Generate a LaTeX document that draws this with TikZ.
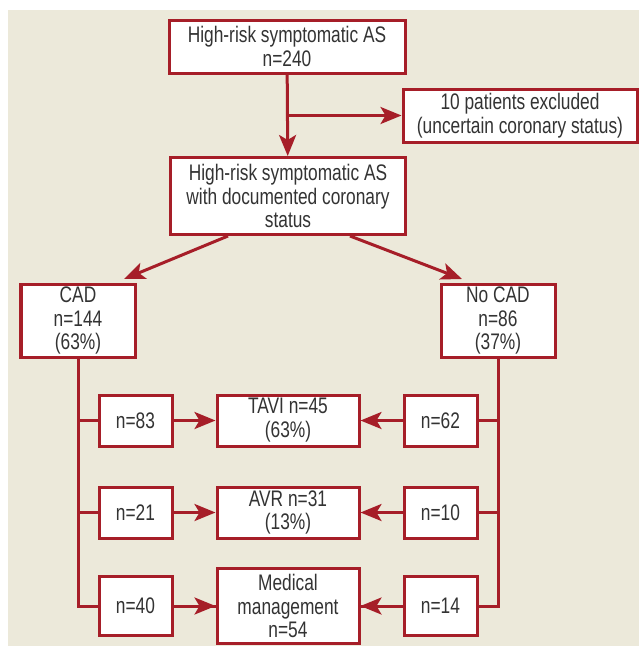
\documentclass[tikz,border=0pt]{standalone}
\usepackage{fontspec}
\setmainfont{Liberation Sans}[FakeStretch=0.77]
\usetikzlibrary{arrows.meta,calc}
\definecolor{panel}{HTML}{ECE9DA}
\definecolor{cadred}{HTML}{A61E28}
\definecolor{txt}{HTML}{333333}
\newlength\pxu
\setlength\pxu{0.025cm}
\tikzset{
  box/.style={draw=cadred, line width=0.075cm, fill=white, text=txt, align=center,
    inner sep=0pt, font=\fontsize{16}{17}\selectfont},
  link/.style={draw=cadred, line width=0.075cm},
  arr/.style={link, -{Stealth[length=0.525cm, width=0.425cm, inset=0.125cm]}},
}
\begin{document}
\begin{tikzpicture}[x=0.025cm, y=-0.025cm]
  \useasboundingbox (0,0) rectangle (639,646);
  \fill[panel] (8,10) rectangle (639,646);
  % top of the chart
  \node[box, minimum width=236\pxu, minimum height=53\pxu] (total) at (287,46.5) {High-risk symptomatic AS\\n=240};
  \node[box, minimum width=234\pxu, minimum height=53\pxu] (excl) at (520,115.5) {10 patients excluded\\(uncertain coronary status)};
  \node[box, minimum width=235\pxu, minimum height=77\pxu] (known) at (288,196) {High-risk symptomatic AS\\with documented coronary\\status};
  \node[box, minimum width=114\pxu, minimum height=73\pxu] (cad) at (78,320.5) {CAD\\n=144\\(63\%)};
  \node[box, minimum width=114\pxu, minimum height=73\pxu] (nocad) at (498,320.5) {No CAD\\n=86\\(37\%)};
  \draw[arr] (total) -- (known);
  \draw[arr] (total |- excl) -- (excl);
  \draw[arr] ($(known.south)+(-60,0)$) -- ($(cad.north)+(46,-3.5)$);
  \draw[arr] ($(known.south)+(62,0)$) -- ($(nocad.north)+(-36,-3.5)$);
  % treatments
  \node[box, minimum width=142\pxu, minimum height=51\pxu] (tavi) at (288,420.5) {TAVI n=45\\(63\%)};
  \node[box, minimum width=142\pxu, minimum height=51\pxu] (avr) at (288,512.5) {AVR n=31\\(13\%)};
  \node[box, minimum width=142\pxu, minimum height=75\pxu] (med) at (288,606) {Medical\\management\\n=54};
  \draw[link] (cad) |- (med);
  \draw[link] (nocad) |- (med);
  \foreach \row/\h/\a/\b in {tavi/51/83/62, avr/51/21/10, med/59/40/14}{
    \node[box, minimum width=73\pxu, minimum height=\h\pxu] (\row-cad) at (cad.south |- \row) [xshift=57.5\pxu] {n=\a};
    \node[box, minimum width=73\pxu, minimum height=\h\pxu] (\row-nocad) at (nocad.south |- \row) [xshift=-57.5\pxu] {n=\b};
    \draw[link] (cad.south |- \row-cad) -- (\row-cad);
    \draw[link] (nocad.south |- \row-nocad) -- (\row-nocad);
    \draw[arr] (\row-cad) -- (\row);
    \draw[arr] (\row-nocad) -- (\row);
  }
\end{tikzpicture}
\end{document}
